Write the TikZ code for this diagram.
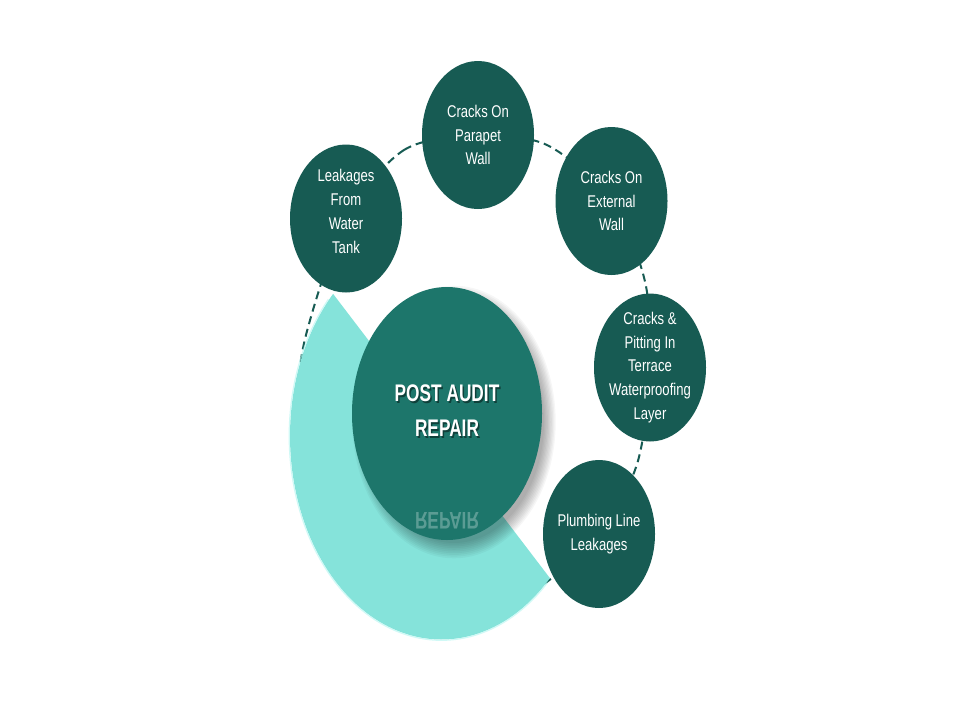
\documentclass[tikz,border=0pt]{standalone}
\usepackage{fontspec}
\usepackage{graphicx}
\setmainfont{Liberation Sans}
\newfontfamily\smallfont[FakeStretch=0.77]{Liberation Sans}
\newfontfamily\bigfont[FakeStretch=0.72]{Liberation Sans}
\usetikzlibrary{shapes.geometric}
\definecolor{darkteal}{HTML}{175B53}
\definecolor{midteal}{HTML}{1D766B}
\definecolor{lightteal}{HTML}{85E3DA}
\definecolor{glowteal}{HTML}{B2F6F1}
\pgfdeclarelayer{back}
\pgfdeclarelayer{mid}
\pgfsetlayers{back,mid,main}
\begin{document}
\begin{tikzpicture}[x=1pt,y=-1pt,
  issue/.style={ellipse, fill=darkteal, minimum width=112pt, minimum height=148pt,
    inner sep=-20pt, text=white, align=center,
    font=\smallfont\fontsize{17}{23.8}\selectfont},
  hub/.style={ellipse, fill=midteal, minimum width=190pt, minimum height=253pt, inner sep=0pt},
  hubtext/.style={align=center, font=\bigfont\bfseries\fontsize{24}{35}\selectfont},
  ring/.style={draw=darkteal, line width=2pt, dash pattern=on 8pt off 5pt}
]
\useasboundingbox (0,0) rectangle (960,720);
\begin{pgfonlayer}{back}
  \fill[white] (0,0) rectangle (960,720);
\end{pgfonlayer}

% wedge (half ring)
\begin{pgfonlayer}{mid}
  \fill[lightteal] (333.1,293.9) -- plot[domain=224.3:44.3, samples=150]
     ({441.5+151.5*cos(\x)},{436+203.5*sin(\x)}) -- cycle;
  \draw[glowteal, line width=1.2pt, opacity=0.6] plot[domain=222:46, samples=150]
     ({441.5+152.3*cos(\x)},{436+204.3*sin(\x)});
\end{pgfonlayer}

% soft shadow of the hub
\foreach \i in {0,...,9}
  \fill[black, opacity=0.035] (454,422) ellipse [x radius={90+1.3*\i}, y radius={121+1.7*\i}];

% nodes
\node[hub] (hub) at (447,413.5) {};
\node[issue, text depth=14pt] (leak) at (346,218.5) {Leakages\\From\\Water\\Tank};
\node[issue] (parapet) at (478,135) {Cracks On\\Parapet\\Wall};
\node[issue] (ext) at (611.5,201) {Cracks On\\External\\Wall};
\node[issue] (terr) at (650,367.5) {Cracks \&\\Pitting In\\Terrace\\Waterproofing\\Layer};
\node[issue] (plumb) at (599,534) {Plumbing Line\\Leakages};

% hub text with shadow and reflection
\node[hubtext, text=black, opacity=0.45] (hubshadow) at ([shift={(1.5,2)}]hub.center) [yshift=2.5pt] {POST AUDIT\\REPAIR};
\node[hubtext, text=white] (hublabel) at (hub.center) [yshift=2.5pt] {POST AUDIT\\REPAIR};
\node[hubtext, text=white, opacity=0.28] (reflection) at (447,520.5) {\scalebox{1}[-1]{REPAIR}};

% dashed ring behind everything
\begin{pgfonlayer}{back}
  \draw[ring] plot[smooth cycle] coordinates {(leak.center) (404,150) (parapet.center)
    (548,145.5) (ext.center) (645,281.5) (terr.center) (637.5,462.5) (plumb.center)
    (520,598) (400,622) (315,520) (300,400) (306,335)};
\end{pgfonlayer}
\end{tikzpicture}
\end{document}
